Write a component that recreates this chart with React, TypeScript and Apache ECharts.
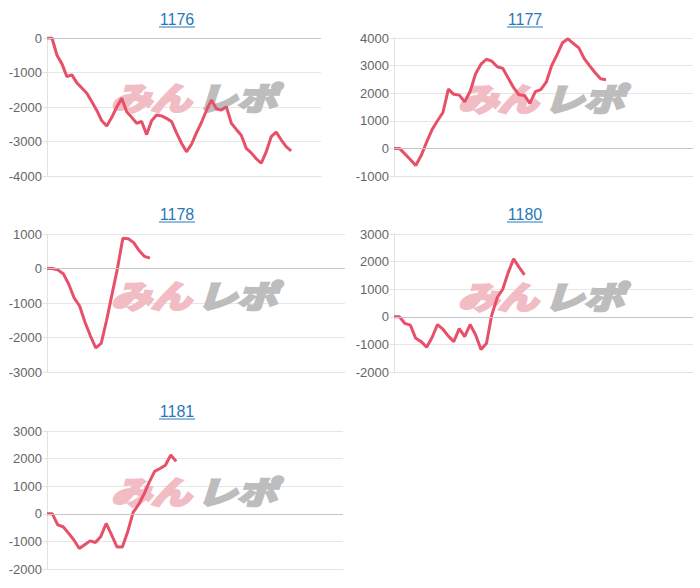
import React, { useEffect, useRef } from "react";
import * as echarts from "echarts";

const titles = ["1176", "1177", "1178", "1180", "1181"];
const slotCount = 56;
const categories = Array.from({ length: slotCount }, (_, i) => String(i + 1));

const s1176 = [
  0, 0, -500, -750, -1120, -1070, -1300, -1450, -1600, -1850,
  -2100, -2400, -2550, -2300, -2000, -1750, -2140, -2300, -2470, -2420,
  -2800, -2400, -2230, -2260, -2330, -2420, -2750, -3050, -3300, -3080,
  -2750, -2450, -2100, -1800, -2050, -2090, -1990, -2470, -2650, -2820,
  -3200, -3330, -3500, -3630, -3300, -2860, -2730, -2950, -3150, -3270,
];
const s1177 = [
  0, 0, -200, -400, -620, -260, 230, 680, 1000, 1300,
  2150, 1960, 1930, 1690, 2060, 2700, 3050, 3230, 3160, 2960,
  2900, 2550, 2200, 1940, 1920, 1630, 2060, 2130, 2400, 3000,
  3400, 3830, 3970, 3800, 3640, 3250, 2990, 2740, 2520, 2490,
];
const s1178 = [
  0, 0, -40, -150, -450, -850, -1080, -1550, -1950, -2300,
  -2170, -1500, -750, 0, 880, 860, 750, 520, 350, 300,
];
const s1180 = [
  0, 0, -240, -300, -780, -900, -1100, -750, -280, -450,
  -700, -900, -430, -720, -280, -650, -1180, -970, 80, 700,
  1000, 1600, 2100, 1800, 1520,
];
const s1181 = [
  0, 0, -400, -470, -700, -950, -1260, -1120, -980, -1040,
  -820, -350, -760, -1200, -1200, -650, 50, 330, 700, 1150,
  1540, 1640, 1760, 2130, 1900,
];
const seriesData = [s1176, s1177, s1178, s1180, s1181];
const yMins = [-4000, -1000, -3000, -2000, -2000];
const yMaxs = [0, 4000, 1000, 3000, 3000];

const layout = [
  { left: 47, top: 38, width: 274, height: 138, tx: 177, ty: 19, wx: 194, wy: 96 },
  { left: 394, top: 38, width: 299, height: 138, tx: 525, ty: 19, wx: 541, wy: 97 },
  { left: 47, top: 234, width: 298, height: 138, tx: 177, ty: 214, wx: 194, wy: 294 },
  { left: 394, top: 234, width: 299, height: 138, tx: 525, ty: 214, wx: 541, wy: 295 },
  { left: 47, top: 431, width: 296, height: 138, tx: 177, ty: 411, wx: 194, wy: 490 },
];

export default function App() {
  const ref = useRef<HTMLDivElement>(null);
  useEffect(() => {
    if (!ref.current) return;
    const chart = echarts.init(ref.current, null, { renderer: "svg" });
    const grid: any[] = [];
    const xAxis: any[] = [];
    const yAxis: any[] = [];
    const series: any[] = [];
    const graphic: any[] = [];
    layout.forEach((L, i) => {
      grid.push({ left: L.left, top: L.top, width: L.width, height: L.height, containLabel: false });
      xAxis.push({
        gridIndex: i,
        type: "category",
        data: categories,
        boundaryGap: false,
        axisLine: { show: true, onZero: false, lineStyle: { color: "#e2e2e2" } },
        axisTick: { show: false },
        axisLabel: { show: false },
        splitLine: { show: false },
      });
      yAxis.push({
        gridIndex: i,
        type: "value",
        min: yMins[i],
        max: yMaxs[i],
        interval: 1000,
        axisLine: { show: true, lineStyle: { color: "#e2e2e2" } },
        axisTick: { show: true, length: 4, lineStyle: { color: "#e2e2e2" } },
        axisLabel: {
          color: "#666",
          fontSize: 13,
          fontFamily: "Arial, 'Liberation Sans', sans-serif",
          margin: 5,
          formatter: (v: number) => String(v),
        },
        splitLine: { show: true, lineStyle: { color: "#e6e6e6", width: 1 } },
      });
      series.push({
        type: "line",
        xAxisIndex: i,
        yAxisIndex: i,
        data: seriesData[i],
        symbol: "none",
        showSymbol: false,
        lineStyle: { color: "#e8506a", width: 3 },
        z: 3,
        markLine: {
          silent: true,
          symbol: "none",
          label: { show: false },
          lineStyle: { color: "#c6c6c6", type: "solid", width: 1 },
          data: [{ yAxis: 0 }],
        },
      });
      graphic.push({
        type: "text",
        x: L.tx,
        y: L.ty,
        z: 5,
        style: {
          text: titles[i],
          fill: "#2a78b8",
          font: "16px Arial, 'Liberation Sans', sans-serif",
          textAlign: "center",
          textVerticalAlign: "middle",
        },
      });
      graphic.push({
        type: "line",
        z: 5,
        shape: { x1: L.tx - 18, y1: L.ty + 8, x2: L.tx + 18, y2: L.ty + 8 },
        style: { stroke: "#2a78b8", lineWidth: 1 },
      });
      graphic.push({
        type: "text",
        x: L.wx - 3,
        y: L.wy,
        z: 1,
        scaleX: 1.08,
        scaleY: 0.85,
        style: {
          text: "みん",
          fill: "#f1bcc3",
          stroke: "#f1bcc3",
          lineWidth: 3.5,
          font: "italic bold 37px 'Noto Sans CJK JP', 'Noto Sans', sans-serif",
          textAlign: "right",
          textVerticalAlign: "middle",
        },
      });
      graphic.push({
        type: "text",
        x: L.wx + 3,
        y: L.wy,
        z: 1,
        scaleX: 1.08,
        scaleY: 0.85,
        style: {
          text: "レポ",
          fill: "#bdbdbd",
          stroke: "#bdbdbd",
          lineWidth: 3.5,
          font: "italic bold 37px 'Noto Sans CJK JP', 'Noto Sans', sans-serif",
          textAlign: "left",
          textVerticalAlign: "middle",
        },
      });
    });
    chart.setOption({
      animation: false,
      backgroundColor: "#ffffff",
      grid,
      xAxis,
      yAxis,
      series,
      graphic,
    });
    return () => chart.dispose();
  }, []);
  return (
    <div
      ref={ref}
      style={{ position: "fixed", left: 0, top: 0, width: 700, height: 588, background: "#fff" }}
    />
  );
}
